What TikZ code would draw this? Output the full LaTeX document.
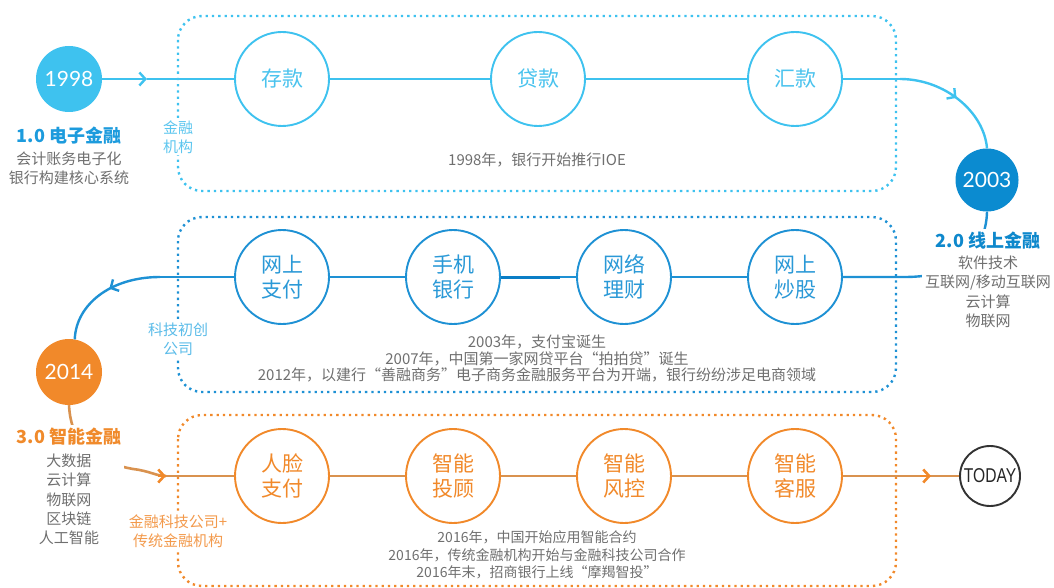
\documentclass[tikz,border=0pt]{standalone}
\usepackage{fontspec}
\setmainfont{Noto Sans CJK SC}
\newfontfamily\numfont{Lato}
\newfontfamily\todayfont{Liberation Sans}
\usetikzlibrary{arrows.meta,decorations.markings}
\definecolor{cyanL}{HTML}{3EC2EF}
\definecolor{cyanT}{HTML}{4AC3EE}
\definecolor{cyanLab}{HTML}{5CC6EF}
\definecolor{blueD}{HTML}{0B8BD0}
\definecolor{blueM}{HTML}{1E91D4}
\definecolor{blueK}{HTML}{0A7EC6}
\definecolor{blueT}{HTML}{2A99D7}
\definecolor{blueLab}{HTML}{5BBCE9}
\definecolor{orangeC}{HTML}{F1892A}
\definecolor{orangeL}{HTML}{D9924F}
\definecolor{orangeT}{HTML}{F39A4C}
\definecolor{grayT}{HTML}{6F6F6F}
\definecolor{headA}{HTML}{1C9BDD}
\definecolor{headB}{HTML}{0E88CC}
\definecolor{headC}{HTML}{F08A2B}
\begin{document}
\begin{tikzpicture}[x=1pt,y=-1pt,
  dotbox/.style={line width=2.4pt, dash pattern=on 2.3pt off 4pt, rounded corners=24pt},
  yearc/.style={circle, minimum size=66pt, inner sep=0pt, text=white, font=\numfont\fontsize{21}{21}\selectfont},
  stage/.style={circle, minimum size=94pt, inner sep=0pt, fill=white, line width=1.9pt, align=center, font=\fontsize{21}{25}\selectfont},
  cline/.style={draw=cyanL, line width=2.4pt},
  bline/.style={draw=blueM, line width=2.4pt},
  oline/.style={draw=orangeL, line width=2.6pt},
  chev/.tip={Straight Barb[length=6pt,width=13pt]},
  midchev/.style={postaction={decorate}, decoration={markings, mark=at position #1 with {\arrow{chev}}}},
  lbl/.style={fill=white, inner sep=2pt, align=center, font=\fontsize{15}{19}\selectfont},
  note/.style={inner sep=1pt, align=center, text=grayT, font=\fontsize{15}{16.5}\selectfont},
  info/.style={fill=white, inner sep=3pt, align=center, text=grayT, font=\fontsize{15}{19.5}\selectfont}]
\useasboundingbox (0,0) rectangle (1054,588);
% boxes
\draw[dotbox, draw=cyanL] (178,16) rectangle (896,191);
\draw[dotbox, draw=blueM] (178,217) rectangle (896,392);
\draw[dotbox, draw=orangeC] (178,415) rectangle (896,586);
% circles
\node[yearc, fill=cyanL] (y1998) at (69,79) {1998};
\node[stage, draw=cyanL, text=cyanT] (ck) at (282,79) {存款};
\node[stage, draw=cyanL, text=cyanT] (dk) at (538,79) {贷款};
\node[stage, draw=cyanL, text=cyanT] (hk) at (795,79) {汇款};
\node[yearc, fill=blueD, minimum size=63pt] (y2003) at (987,180) {2003};
\node[stage, draw=blueM, text=blueT] (wszf) at (282,277) {网上\\支付};
\node[stage, draw=blueM, text=blueT] (sjyh) at (453,277) {手机\\银行};
\node[stage, draw=blueM, text=blueT] (wllc) at (624,277) {网络\\理财};
\node[stage, draw=blueM, text=blueT] (wscg) at (795,277) {网上\\炒股};
\node[yearc, fill=orangeC] (y2014) at (69,372) {2014};
\node[stage, draw=orangeC, text=orangeC] (rlzf) at (282,476) {人脸\\支付};
\node[stage, draw=orangeC, text=orangeC] (zntg) at (453,476) {智能\\投顾};
\node[stage, draw=orangeC, text=orangeC] (znfk) at (624,476) {智能\\风控};
\node[stage, draw=orangeC, text=orangeC] (znkf) at (795,476) {智能\\客服};
\node[circle, draw=black!80, line width=1.9pt, minimum size=60pt, inner sep=0pt, text=black!85, font=\todayfont\fontsize{20}{20}\selectfont] (today) at (990,476) {\scalebox{0.78}[1]{TODAY}};
% row 1 connectors
\coordinate (a1) at (147,79);
\draw[cline, -chev] (y1998) -- (a1);
\draw[cline] (a1) -- (ck);
\draw[cline] (ck) -- (dk);
\draw[cline] (dk) -- (hk);
\coordinate (a2) at (900,79);
\draw[cline] (hk) -- (a2);
\draw[cline, midchev=0.5] (a2) .. controls (945,79) and (984,112) .. (y2003.north);
% row 2 connectors
\coordinate (a3) at (905,277);
\draw[bline] (y2003.south) .. controls (986,250) and (960,277) .. (a3) -- (wscg);
\draw[bline] (wscg) -- (wllc);
\draw[bline] (wllc) -- (sjyh);
\coordinate (a4) at (560,277);
\draw[draw=blueK, line width=3pt] (sjyh) -- (a4);
\draw[bline] (sjyh) -- (wszf);
\coordinate (a5) at (160,277);
\draw[bline] (wszf) -- (a5);
\draw[bline, midchev=0.45] (a5) .. controls (110,277) and (76,305) .. (y2014.80);
% row 3 connectors
\coordinate (a6) at (133,469);
\coordinate (a7) at (166,476);
\draw[oline] (y2014.south) .. controls (71,445) and (95,462) .. (a6);
\draw[oline] (a6) .. controls (150,471) and (156,476) .. (a7);
\draw[oline] (a7) -- (rlzf);
\draw[draw=orangeC, line width=2.6pt, -chev] (158,476) -- (a7);
\draw[oline] (rlzf) -- (zntg);
\draw[oline] (zntg) -- (znfk);
\draw[oline] (znfk) -- (znkf);
\coordinate (a8) at (931,476);
\draw[oline] (znkf) -- (a8);
\draw[draw=orangeC, line width=2.6pt, -chev] (920,476) -- (a8);
\draw[oline] (a8) -- (today);
% labels on box edges
\node[lbl, text=cyanLab] (lab1) at (178,137) {金融\\机构};
\node[lbl, text=blueLab] (lab2) at (178,339) {科技初创\\公司};
\node[lbl, text=orangeT] (lab3) at (178,531) {金融科技公司+\\传统金融机构};
% notes
\node[note] (n1) at (537,160) {1998年，银行开始推行IOE};
\node[note] (n2) at (537,358.5) {2003年，支付宝诞生\\2007年，中国第一家网贷平台“拍拍贷”诞生\\2012年，以建行“善融商务”电子商务金融服务平台为开端，银行纷纷涉足电商领域};
\node[note, font=\fontsize{14}{17.5}\selectfont] (n3) at (537,555.3) {2016年，中国开始应用智能合约\\2016年，传统金融机构开始与金融科技公司合作\\2016年末，招商银行上线“摩羯智投”};
% stage info
\node[info, font=\fontsize{15}{19}\selectfont] (i1) at (69,155.5) {{\bfseries\color{headA}\fontsize{18}{18}\selectfont 1.0 电子金融}\\[3pt]会计账务电子化\\银行构建核心系统};
\node[info] (i2) at (988,280) {{\bfseries\color{headB}\fontsize{18}{18}\selectfont 2.0 线上金融}\\[1.5pt]软件技术\\互联网/移动互联网\\云计算\\物联网};
\node[info, font=\fontsize{15}{19.25}\selectfont] (i3) at (69,486.3) {{\bfseries\color{headC}\fontsize{18}{18}\selectfont 3.0 智能金融}\\[3.75pt]大数据\\云计算\\物联网\\区块链\\人工智能};
\end{tikzpicture}
\end{document}
